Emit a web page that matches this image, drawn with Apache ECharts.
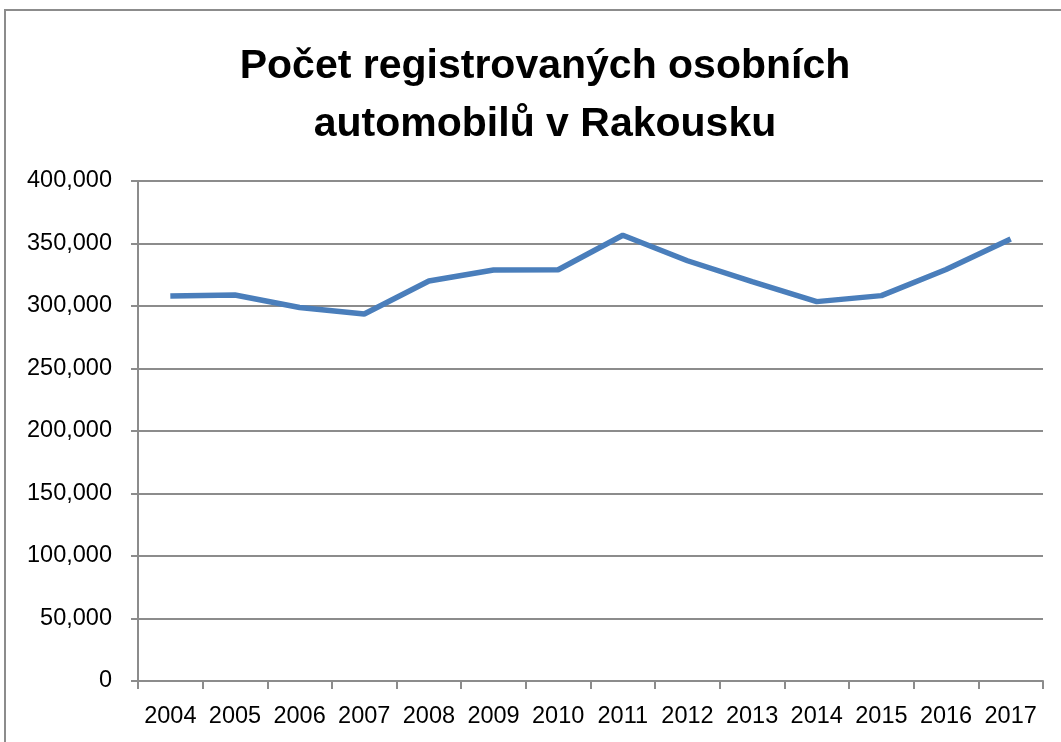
<!DOCTYPE html>
<html>
<head>
<meta charset="utf-8">
<script src="https://cdn.jsdelivr.net/npm/echarts@6/dist/echarts.min.js"></script>
<style>
  html, body { margin: 0; padding: 0; background: #fff; overflow: hidden; }
  #frame { position: absolute; left: 4px; top: 9px; width: 1100px; height: 800px; border-left: 2px solid #8c8c8c; border-top: 2px solid #8c8c8c; }
  #chart { position: absolute; left: 0; top: 0; width: 1061px; height: 742px; }
</style>
</head>
<body>
<div id="frame"></div>
<div id="chart"></div>
<script>
// data
const years = ['2004', '2005', '2006', '2007', '2008', '2009', '2010', '2011', '2012', '2013', '2014', '2015', '2016', '2017']
const registrations = [308000, 308800, 298800, 293600, 320000, 328800, 329000, 356600, 336200, 319500, 303500, 308300, 329200, 353600]
const titleText = 'Počet registrovaných osobních\nautomobilů v Rakousku'

const gray = '#8c8c8c'
const font = 'Liberation Sans'

const chart = echarts.init(document.getElementById('chart'))
chart.setOption({
  animation: false,
  title: {
    text: titleText,
    left: 540,
    textAlign: 'center',
    top: 33,
    textStyle: {
      fontFamily: font,
      fontWeight: 'bold',
      fontSize: 41,
      lineHeight: 58,
      color: '#000'
    }
  },
  grid: {
    left: 138,
    right: 18,
    top: 181,
    bottom: 61
  },
  xAxis: {
    type: 'category',
    data: years,
    boundaryGap: true,
    axisLine: { lineStyle: { color: gray, width: 2 } },
    axisTick: { show: true, interval: 0, length: 8, lineStyle: { color: gray, width: 2 } },
    axisLabel: { interval: 0, color: '#000', fontFamily: font, fontSize: 23.5, margin: 24 }
  },
  yAxis: {
    type: 'value',
    min: 0,
    max: 400000,
    interval: 50000,
    axisLine: { show: true, lineStyle: { color: gray, width: 2 } },
    axisTick: { show: true, length: 7, lineStyle: { color: gray, width: 2 } },
    axisLabel: {
      color: '#000',
      fontFamily: font,
      fontSize: 23.5,
      margin: 26,
      formatter: v => v.toLocaleString('en-US')
    },
    splitLine: { show: true, lineStyle: { color: gray, width: 2 } }
  },
  series: [{
    type: 'line',
    data: registrations,
    showSymbol: false,
    symbol: 'none',
    lineStyle: { color: '#4a7ebb', width: 5.5 }
  }]
})
</script>
</body>
</html>
